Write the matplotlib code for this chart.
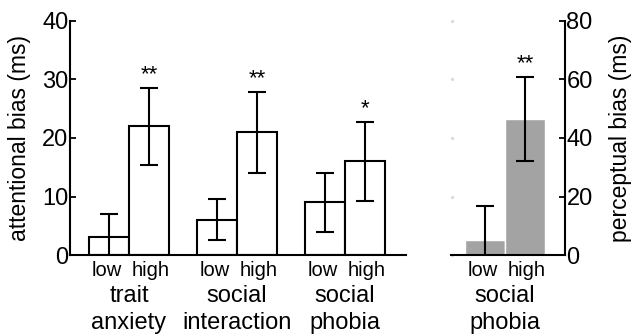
import matplotlib
matplotlib.use("Agg")
import matplotlib.pyplot as plt
import matplotlib.transforms as mtransforms

plt.rcParams['font.family'] = ['Liberation Sans', 'DejaVu Sans']

# ---- data ----
groups = ["trait\nanxiety", "social\ninteraction", "social\nphobia"]
levels = ["low", "high"]
att_low = [3, 6, 9]
att_high = [22, 21, 16]
att_low_err = [4, 3.5, 5]
att_high_err = [6.6, 6.9, 6.7]
att_sig_high = ["**", "**", "*"]

perc_group = ["social\nphobia"]
perc_vals = [5, 46.5]
perc_err = [11.7, 14.5]
perc_sig = ["", "**"]

left_ticks = [0, 10, 20, 30, 40]
right_ticks = [0, 20, 40, 60, 80]

fig = plt.figure(figsize=(6.33, 3.35), dpi=100)
W, H = 633, 335
ax1 = fig.add_axes([70 / W, 1 - 255 / H, (406 - 70) / W, (255 - 21) / H])
ax2 = fig.add_axes([451 / W, 1 - 255 / H, (565 - 451) / W, (255 - 21) / H])

fs_tick = 17
fs_small = 14.5
fs_group = 17
fs_ylab = 16.5
fs_star = 16


def spread_labels(ax):
    for i, lab in enumerate(ax.get_xticklabels()):
        dx = -2 if i % 2 == 0 else 2
        off = mtransforms.ScaledTranslation(dx / 100, 0, fig.dpi_scale_trans)
        lab.set_transform(lab.get_transform() + off)


# ---- left panel ----
spacing = 2.7
start = 1.475
centers = [start + spacing * i for i in range(len(groups))]
xl = [c - 0.5 for c in centers]
xh = [c + 0.5 for c in centers]
ekw = dict(elinewidth=1.5, capsize=6.5, capthick=1.5, ecolor='black')
ax1.bar(xl, att_low, width=1.0, color='white', edgecolor='black', linewidth=1.5,
        yerr=att_low_err, error_kw=ekw, zorder=2)
ax1.bar(xh, att_high, width=1.0, color='white', edgecolor='black', linewidth=1.5,
        yerr=att_high_err, error_kw=ekw, zorder=2)
for x, v, e, s in zip(xh, att_high, att_high_err, att_sig_high):
    ax1.annotate(s, (x, v + e), xytext=(0, 2), textcoords='offset points',
                 ha='center', va='bottom', fontsize=fs_star)
ax1.set_xlim(0, 8.4)
ax1.set_ylim(0, 40)
ax1.set_yticks(left_ticks)
ax1.set_yticklabels([str(t) for t in left_ticks], fontsize=fs_tick)
ax1.tick_params(axis='y', direction='in', length=4, width=1.3, pad=1)
ticks_x = []
labels_x = []
for a, b in zip(xl, xh):
    ticks_x += [a, b]
    labels_x += levels
ax1.set_xticks(ticks_x)
ax1.set_xticklabels(labels_x, fontsize=fs_small)
ax1.tick_params(axis='x', length=0, pad=4)
spread_labels(ax1)
for s in ['top', 'right']:
    ax1.spines[s].set_visible(False)
for s in ['left', 'bottom']:
    ax1.spines[s].set_linewidth(1.5)
ax1.set_ylabel("attentional bias (ms)", fontsize=fs_ylab, labelpad=8)
trans1 = mtransforms.blended_transform_factory(ax1.transData, ax1.transAxes)
for c, g in zip(centers, groups):
    ax1.text(c, -0.128, g, transform=trans1, ha='center', va='top',
             fontsize=fs_group, linespacing=1.28)

# ---- right panel ----
pc = 1.35
px = [pc - 0.5, pc + 0.5]
ax2.bar(px, perc_vals, width=1.0, color='#a3a3a3', edgecolor='white', linewidth=1.0,
        yerr=perc_err, error_kw=ekw, zorder=2)
for x, v, e, s in zip(px, perc_vals, perc_err, perc_sig):
    if s:
        ax2.annotate(s, (x, v + e), xytext=(0, 2), textcoords='offset points',
                     ha='center', va='bottom', fontsize=fs_star)
ax2.set_xlim(0, 2.85)
ax2.set_ylim(0, 80)
ax2.yaxis.tick_right()
ax2.yaxis.set_label_position('right')
ax2.set_yticks(right_ticks)
ax2.set_yticklabels([str(t) for t in right_ticks], fontsize=fs_tick)
ax2.tick_params(axis='y', which='both', direction='in', length=4, width=1.3, pad=1,
                right=True, left=False, labelleft=False)
for t in right_ticks:
    ax2.plot([0.02], [t], marker='o', markersize=1.2, color='#d8d8d8',
             clip_on=False, zorder=1)
ax2.set_xticks(px)
ax2.set_xticklabels(levels, fontsize=fs_small)
ax2.tick_params(axis='x', length=0, pad=4)
spread_labels(ax2)
for s in ['top', 'left']:
    ax2.spines[s].set_visible(False)
for s in ['right', 'bottom']:
    ax2.spines[s].set_linewidth(1.5)
ax2.set_ylabel("perceptual bias (ms)", fontsize=fs_ylab, labelpad=12)
trans2 = mtransforms.blended_transform_factory(ax2.transData, ax2.transAxes)
ax2.text(pc, -0.128, perc_group[0], transform=trans2, ha='center', va='top',
         fontsize=fs_group, linespacing=1.28)

fig.savefig("out.png", dpi=100)
